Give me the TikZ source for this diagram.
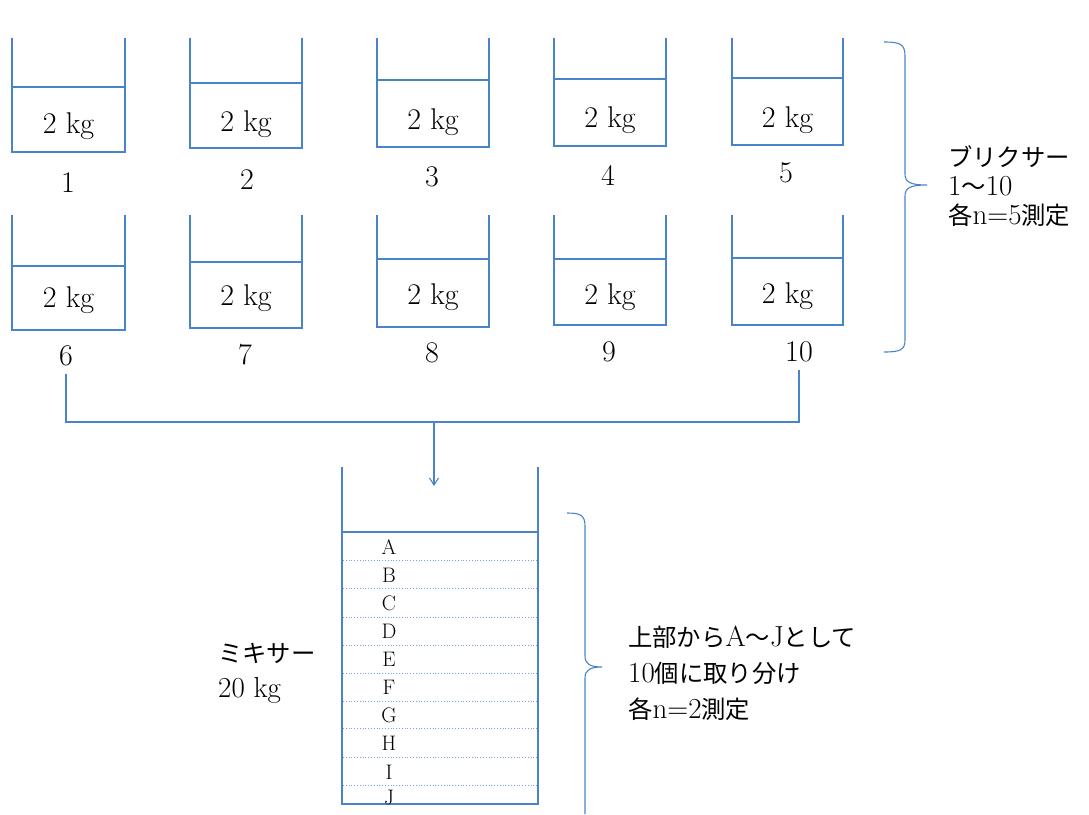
\documentclass[tikz,border=0pt]{standalone}
\usepackage{fontspec}
\newfontfamily\jp[Scale=0.84]{Noto Sans CJK JP}
\usetikzlibrary{arrows.meta}
\definecolor{lineblue}{RGB}{74,132,200}
\definecolor{dotblue}{RGB}{120,165,215}
\tikzset{
  vessel/.style={draw=lineblue, line width=1.1pt},
  conn/.style={draw=lineblue, line width=1.1pt},
  dotline/.style={draw=dotblue, line width=0.8pt, dotted},
  kgtext/.style={font=\fontsize{30}{34}\selectfont, inner sep=0pt},
  numtext/.style={font=\fontsize{30}{34}\selectfont, inner sep=0pt},
  lettext/.style={font=\fontsize{21}{24}\selectfont, inner sep=0pt},
  toptext/.style={font=\fontsize{29}{29}\selectfont, align=left, anchor=west, inner sep=0pt},
  bottext/.style={font=\fontsize{29}{36}\selectfont, align=left, anchor=west, inner sep=0pt},
}
\begin{document}
\begin{tikzpicture}[x=1pt,y=-1pt]
\useasboundingbox (0,0) rectangle (1089,814);
% containers: left, right, top, fill line, bottom, text y, label x, label y, index
\foreach \l/\r/\t/\f/\b/\ty/\lx/\ly/\i in {
  12/125/38/87/152/126/68/183/1,
  190/302/38/83/148/124/247/180/2,
  377/489/38/80/147/122/432/177/3,
  554/666/38/79/146/120/608/175/4,
  732/843/38/78/145/120/786/173/5,
  12/125/215/266/330/300/66/356/6,
  190/302/215/262/328/298/245/355/7,
  377/489/215/259/327/297/432/353/8,
  554/666/215/259/325/297/609/352/9,
  732/843/215/258/325/296/799/352/10}{
  \draw[vessel] (\l,\t) -- (\l,\b) -- (\r,\b) -- (\r,\t);
  \draw[vessel] (\l,\f) -- (\r,\f);
  \node[kgtext] (kg\i) at ({(\l+\r)/2},\ty) {2 kg};
  \node[numtext] (n\i) at (\lx,\ly) {\i};
}
% collecting connector
\coordinate (jn) at (434,422);
\coordinate (mixin) at (434,486);
\draw[conn] ([yshift=-8pt]n6.south) |- (jn) -| ([yshift=-8pt]n10.south);
\draw[conn, -{Straight Barb[length=7pt,width=9pt]}] (jn) -- (mixin);
% mixer
\draw[vessel] (342,467) -- (342,804) -- (538,804) -- (538,467);
\draw[vessel] (342,532) -- (538,532);
\foreach \y in {560,588,617,645,673,701,728,757,785}{
  \draw[dotline] (343,\y) -- (537,\y);
}
\foreach \L/\y in {A/547,B/575,C/603,D/631,E/659,F/687,G/715,H/743,I/772,J/797}{
  \node[lettext] (lab\L) at (389,\y) {\L};
}
\node[bottext, font=\fontsize{29}{35}\selectfont] (mixlabel) at (218,673) {{\jp ミキサー}\\20 kg};
% top brace
\draw[conn] (884,42) .. controls (900,42) and (905,44) .. (905,56) -- (905,174)
  .. controls (905,182) and (910,185) .. (927,185)
  .. controls (910,185) and (905,188) .. (905,196) -- (905,340)
  .. controls (905,350) and (900,352) .. (884,352);
\node[toptext] (toplabel) at (948,186) {{\jp ブリクサー}\\1{\jp 〜}10\\{\jp 各}n=5{\jp 測定}};
% bottom brace
\draw[conn] (567,513) .. controls (580,513) and (585,515) .. (585,526) -- (585,656)
  .. controls (585,664) and (590,667) .. (602,667)
  .. controls (590,667) and (585,670) .. (585,678) -- (585,814);
\node[bottext] (botlabel) at (628,673) {{\jp 上部から}A{\jp 〜}J{\jp として}\\10{\jp 個に取り分け}\\{\jp 各}n=2{\jp 測定}};
\end{tikzpicture}
\end{document}
